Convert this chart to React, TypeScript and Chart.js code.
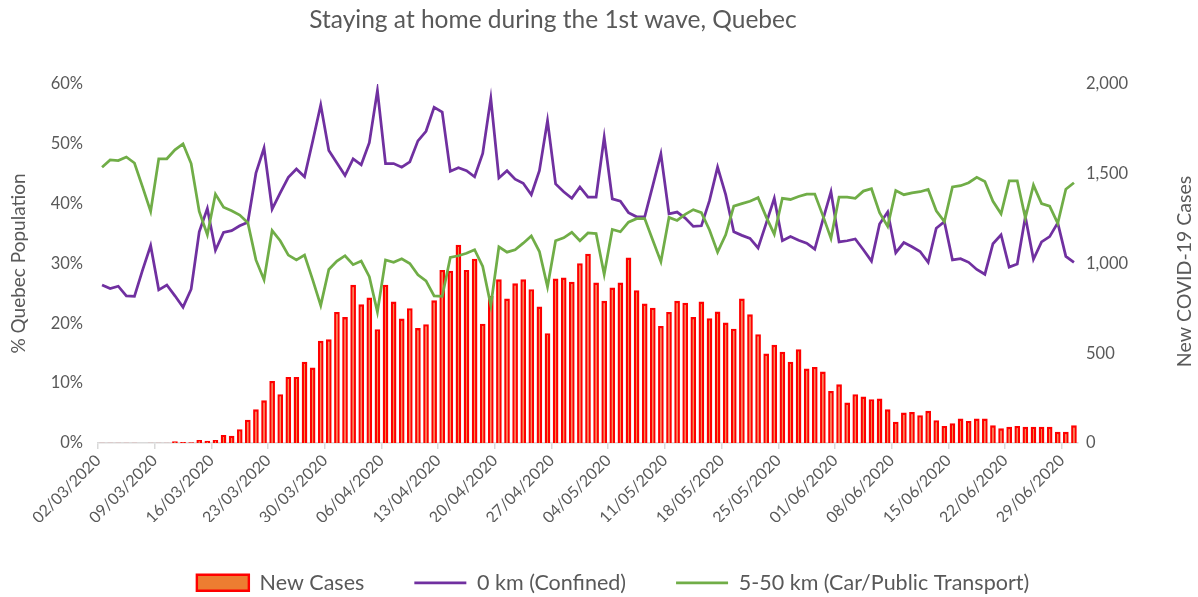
import { useEffect, useRef } from "react";
import { Chart, registerables } from "chart.js";

Chart.register(...registerables);

const CHART_TITLE = "Staying at home during the 1st wave, Quebec";
const LEFT_TITLE = "% Quebec Population";
const RIGHT_TITLE = "New COVID-19 Cases";

const dateLabels = [
  "02/03/2020", "03/03/2020", "04/03/2020", "05/03/2020", "06/03/2020", "07/03/2020", "08/03/2020",
  "09/03/2020", "10/03/2020", "11/03/2020", "12/03/2020", "13/03/2020", "14/03/2020", "15/03/2020",
  "16/03/2020", "17/03/2020", "18/03/2020", "19/03/2020", "20/03/2020", "21/03/2020", "22/03/2020",
  "23/03/2020", "24/03/2020", "25/03/2020", "26/03/2020", "27/03/2020", "28/03/2020", "29/03/2020",
  "30/03/2020", "31/03/2020", "01/04/2020", "02/04/2020", "03/04/2020", "04/04/2020", "05/04/2020",
  "06/04/2020", "07/04/2020", "08/04/2020", "09/04/2020", "10/04/2020", "11/04/2020", "12/04/2020",
  "13/04/2020", "14/04/2020", "15/04/2020", "16/04/2020", "17/04/2020", "18/04/2020", "19/04/2020",
  "20/04/2020", "21/04/2020", "22/04/2020", "23/04/2020", "24/04/2020", "25/04/2020", "26/04/2020",
  "27/04/2020", "28/04/2020", "29/04/2020", "30/04/2020", "01/05/2020", "02/05/2020", "03/05/2020",
  "04/05/2020", "05/05/2020", "06/05/2020", "07/05/2020", "08/05/2020", "09/05/2020", "10/05/2020",
  "11/05/2020", "12/05/2020", "13/05/2020", "14/05/2020", "15/05/2020", "16/05/2020", "17/05/2020",
  "18/05/2020", "19/05/2020", "20/05/2020", "21/05/2020", "22/05/2020", "23/05/2020", "24/05/2020",
  "25/05/2020", "26/05/2020", "27/05/2020", "28/05/2020", "29/05/2020", "30/05/2020", "31/05/2020",
  "01/06/2020", "02/06/2020", "03/06/2020", "04/06/2020", "05/06/2020", "06/06/2020", "07/06/2020",
  "08/06/2020", "09/06/2020", "10/06/2020", "11/06/2020", "12/06/2020", "13/06/2020", "14/06/2020",
  "15/06/2020", "16/06/2020", "17/06/2020", "18/06/2020", "19/06/2020", "20/06/2020", "21/06/2020",
  "22/06/2020", "23/06/2020", "24/06/2020", "25/06/2020", "26/06/2020", "27/06/2020", "28/06/2020",
  "29/06/2020", "30/06/2020",
];

const xTickLabels = [
  "02/03/2020", "09/03/2020", "16/03/2020", "23/03/2020", "30/03/2020", "06/04/2020",
  "13/04/2020", "20/04/2020", "27/04/2020", "04/05/2020", "11/05/2020", "18/05/2020",
  "25/05/2020", "01/06/2020", "08/06/2020", "15/06/2020", "22/06/2020", "29/06/2020",
];

const newCases = [
  1, 1, 1, 1, 1, 0, 2, 2, 2, 10, 5, 4, 17, 12,
  17, 45, 40, 77, 130, 188, 238, 346, 272, 368, 368, 452, 420, 569,
  578, 730, 702, 881, 773, 810, 634, 881, 788, 693, 751, 640, 662, 795,
  964, 959, 1104, 964, 1027, 665, 819, 912, 805, 890, 912, 857, 760, 612,
  916, 922, 899, 1002, 1055, 894, 792, 866, 894, 1033, 851, 777, 754, 652,
  730, 792, 782, 702, 788, 695, 732, 671, 637, 805, 717, 606, 498, 547,
  509, 452, 522, 415, 424, 398, 290, 327, 225, 272, 259, 244, 248, 188,
  119, 170, 173, 155, 179, 127, 95, 110, 136, 123, 136, 136, 99, 82,
  90, 95, 90, 90, 90, 90, 62, 62, 99,
];

const confined = [
  26.4, 25.8, 26.2, 24.6, 24.5, 28.9, 33.0, 25.6, 26.4, 24.6, 22.7, 25.7, 35.3, 39.2,
  32.2, 35.2, 35.5, 36.3, 36.9, 45.1, 49.3, 39.1, 41.8, 44.4, 45.8, 44.5, 50.4, 56.5,
  48.9, 46.8, 44.7, 47.5, 46.5, 50.2, 58.9, 46.7, 46.7, 46.1, 47.0, 50.5, 52.1, 56.1,
  55.3, 45.4, 46.0, 45.5, 44.5, 48.4, 57.6, 44.3, 45.5, 44.1, 43.4, 41.5, 45.5, 53.9,
  43.3, 42.0, 40.9, 42.8, 41.1, 41.1, 51.1, 40.8, 40.4, 38.5, 37.8, 37.8, 43.0, 48.3,
  38.3, 38.6, 37.6, 36.2, 36.3, 40.5, 46.1, 41.5, 35.3, 34.7, 34.2, 32.6, 36.7, 40.9,
  33.8, 34.5, 33.9, 33.4, 32.4, 37.3, 42.0, 33.6, 33.8, 34.1, 32.3, 30.4, 36.6, 38.6,
  31.8, 33.5, 32.8, 32.0, 30.2, 35.9, 37.0, 30.6, 30.8, 30.2, 29.0, 28.2, 33.3, 34.8,
  29.4, 29.9, 37.8, 30.7, 33.6, 34.5, 36.8, 31.2, 30.2,
];

const carTransport = [
  46.1, 47.3, 47.2, 47.8, 46.8, 42.8, 38.7, 47.5, 47.5, 49.0, 50.0, 46.7, 38.7, 34.8,
  41.6, 39.4, 38.8, 38.1, 36.8, 30.6, 27.3, 35.5, 33.8, 31.4, 30.6, 31.4, 27.3, 23.0,
  29.0, 30.4, 31.3, 29.8, 30.4, 27.8, 21.9, 30.6, 30.2, 30.8, 30.0, 28.1, 27.1, 24.6,
  24.5, 31.0, 31.3, 31.7, 32.3, 29.5, 23.0, 32.8, 31.9, 32.3, 33.4, 34.6, 32.0, 26.1,
  33.8, 34.3, 35.2, 33.8, 35.1, 35.0, 28.2, 35.7, 35.3, 36.9, 37.5, 37.5, 33.9, 30.3,
  37.7, 37.2, 38.2, 39.0, 38.5, 35.6, 31.9, 34.8, 39.6, 40.0, 40.4, 41.0, 37.8, 34.9,
  40.9, 40.7, 41.2, 41.6, 41.6, 38.0, 34.2, 41.1, 41.1, 40.9, 42.1, 42.5, 38.5, 36.2,
  42.2, 41.5, 41.8, 42.0, 42.4, 38.8, 37.0, 42.8, 43.0, 43.5, 44.4, 43.7, 40.4, 38.3,
  43.8, 43.8, 37.6, 43.1, 40.0, 39.6, 36.7, 42.4, 43.5,
];

const FONT = "Lato, 'Noto Sans', sans-serif";
const TEXT = "#595959";

const extraTextPlugin = {
  id: "extraText",
  afterDraw(chart: any) {
    const { ctx, chartArea } = chart;
    ctx.save();
    ctx.fillStyle = TEXT;
    ctx.textAlign = "center";
    ctx.textBaseline = "middle";
    ctx.font = `24.5px ${FONT}`;
    ctx.fillText(CHART_TITLE, 553, 20);
    ctx.translate(1185, (chartArea.top + chartArea.bottom) / 2 + 8);
    ctx.rotate(-Math.PI / 2);
    ctx.font = `19.5px ${FONT}`;
    ctx.fillText(RIGHT_TITLE, 0, 0);
    ctx.restore();
  },
};

export default function App() {
  const canvasRef = useRef<HTMLCanvasElement | null>(null);

  useEffect(() => {
    if (!canvasRef.current) return;
    const chart = new Chart(canvasRef.current, {
      type: "bar",
      data: {
        labels: dateLabels,
        datasets: [
          {
            type: "bar",
            label: "New Cases",
            data: newCases,
            yAxisID: "y1",
            backgroundColor: "#ED7D31",
            borderColor: "#FF0000",
            borderWidth: 2.4,
            barPercentage: 0.7,
            categoryPercentage: 1,
            pointStyle: "rect",
            order: 3,
          } as any,
          {
            type: "line",
            label: "0 km (Confined)",
            data: confined,
            yAxisID: "y",
            borderColor: "#7030A0",
            backgroundColor: "#7030A0",
            borderWidth: 2.75,
            pointRadius: 0,
            pointHoverRadius: 0,
            pointStyle: "line",
            pointBorderColor: "#7030A0",
            pointBorderWidth: 2.75,
            tension: 0,
            order: 2,
          } as any,
          {
            type: "line",
            label: "5-50 km (Car/Public Transport)",
            data: carTransport,
            yAxisID: "y",
            borderColor: "#70AD47",
            backgroundColor: "#70AD47",
            borderWidth: 2.75,
            pointRadius: 0,
            pointHoverRadius: 0,
            pointStyle: "line",
            pointBorderColor: "#70AD47",
            pointBorderWidth: 2.75,
            tension: 0,
            order: 1,
          } as any,
        ],
      },
      options: {
        animation: false,
        responsive: false,
        maintainAspectRatio: false,
        layout: { padding: { top: 84, bottom: -6.5, left: 28, right: 0 } },
        plugins: {
          title: { display: false },
          tooltip: { enabled: false },
          legend: {
            position: "bottom",
            labels: {
              usePointStyle: true,
              pointStyleWidth: 52,
              boxHeight: 16,
              padding: 50,
              color: TEXT,
              font: { size: 21.5, family: FONT },
              sort: (a: any, b: any) => a.datasetIndex - b.datasetIndex,
            },
          },
        },
        scales: {
          x: {
            type: "category",
            offset: true,
            grid: {
              offset: true,
              drawOnChartArea: false,
              drawTicks: true,
              tickLength: 6,
              lineWidth: 1.5,
              color: (c: any) => (c.index !== undefined && c.index % 7 === 0 ? "#D9D9D9" : "rgba(0,0,0,0)"),
            },
            border: { display: true, color: "#D9D9D9", width: 1.5 },
            ticks: {
              autoSkip: false,
              maxRotation: 45,
              minRotation: 45,
              labelOffset: -4,
              padding: 2,
              color: TEXT,
              font: { size: 16, family: FONT },
              callback: (_v: any, index: number) =>
                xTickLabels.includes(dateLabels[index]) ? dateLabels[index] : "",
            },
            afterFit: (s: any) => {
              s.height = 79;
            },
          },
          y: {
            position: "left",
            min: 0,
            max: 60,
            grid: { display: false, drawTicks: false },
            border: { display: false },
            ticks: {
              stepSize: 10,
              padding: 15,
              color: TEXT,
              font: { size: 16.5, family: FONT },
              callback: (v: any) => `${v}%`,
            },
            title: {
              display: true,
              text: LEFT_TITLE,
              color: TEXT,
              font: { size: 19, family: FONT },
              padding: { top: -21, bottom: 0 },
            },
            afterFit: (s: any) => {
              s.width = 70;
            },
          },
          y1: {
            position: "right",
            min: 0,
            max: 2000,
            grid: { display: false, drawTicks: false },
            border: { display: false },
            ticks: {
              stepSize: 500,
              padding: 8,
              color: TEXT,
              font: { size: 16.5, family: FONT },
              callback: (v: any) => Number(v).toLocaleString("en-US"),
            },
            afterFit: (s: any) => {
              s.width = 120;
            },
          },
        },
      } as any,
      plugins: [extraTextPlugin],
    });
    return () => chart.destroy();
  }, []);

  return (
    <div style={{ position: "absolute", left: 0, top: 0, width: 1198, height: 597, background: "#fff" }}>
      <canvas ref={canvasRef} width={1198} height={597} />
    </div>
  );
}
